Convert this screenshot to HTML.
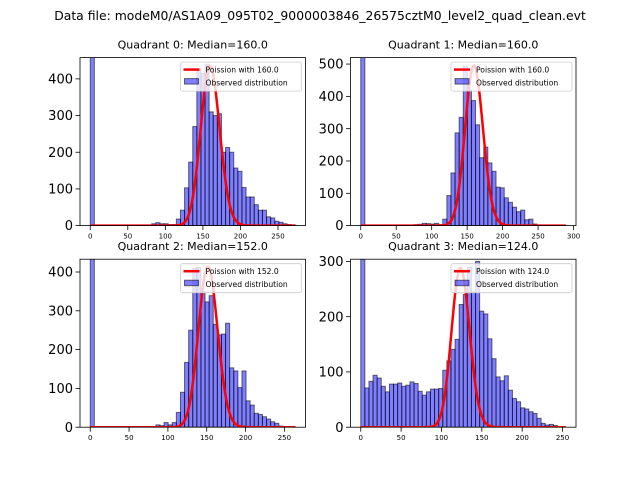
<!DOCTYPE html>
<html><head><meta charset="utf-8">
<style>
html,body{margin:0;padding:0;background:#fff;}
svg{display:block;font-family:"DejaVu Sans","Liberation Sans",sans-serif;}
</style></head>
<body>
<svg id="chart" width="640" height="480" viewBox="0 0 640 480" xmlns="http://www.w3.org/2000/svg">
<rect x="0" y="0" width="640" height="480" fill="#fff"/>
<text x="320" y="20" font-size="12.4" text-anchor="middle" fill="#000">Data file: modeM0/AS1A09_095T02_9000003846_26575cztM0_level2_quad_clean.evt</text>
</svg>
<script>
// ---- data ----
const quadrantNames = ["Quadrant 0", "Quadrant 1", "Quadrant 2", "Quadrant 3"];
const medians = [160.0, 160.0, 152.0, 124.0];
const poissonPeaks = [435, 495, 414, 288];
const dataRanges = [273, 289, 264, 254];
const counts0 = [2000,0,0,0,0,0,0,0,0,0,0,0,0,0,0,5,8,5,5,3,3,18,42,103,173,270,427,415,440,310,300,305,200,213,200,157,148,104,78,78,57,42,42,24,21,12,9,5,3,2];
const counts1 = [2000,0,0,0,0,0,0,0,0,0,0,0,0,3,4,7,6,5,7,3,20,93,163,287,335,493,420,387,312,210,243,194,168,119,117,86,72,57,43,48,18,20,5,2,1,1,0,0,0,1];
const counts2 = [2000,0,0,0,0,0,0,0,0,0,0,0,0,0,0,0,6,4,12,6,12,38,90,167,250,410,412,350,323,339,265,238,240,268,153,145,102,145,68,57,36,33,27,21,14,10,3,0,1,1];
const counts3 = [2000,71,83,94,89,74,64,78,78,80,74,76,82,79,65,58,64,69,69,70,103,120,141,159,222,240,290,245,300,210,205,160,124,91,84,93,67,52,46,35,33,28,25,16,7,4,5,3,1,0];
const allCounts = [counts0, counts1, counts2, counts3];
const yTicks = [[0,100,200,300,400],[0,100,200,300,400,500],[0,100,200,300,400],[0,100,200,300]];
const xTicks = [[0,50,100,150,200,250],[0,50,100,150,200,250,300],[0,50,100,150,200,250],[0,50,100,150,200,250]];
const yMaxes = [458, 520, 433, 304];

// ---- layout ----
const NS = "http://www.w3.org/2000/svg";
const svg = document.getElementById('chart');
const boxes = [
  {x:80, y:57.6, w:225.5, h:168},
  {x:350.5, y:57.6, w:225.5, h:168},
  {x:80, y:259.2, w:225.5, h:168},
  {x:350.5, y:259.2, w:225.5, h:168}
];
function mk(tag, attrs, parent){
  const e = document.createElementNS(NS, tag);
  for (const k in attrs) e.setAttribute(k, attrs[k]);
  parent.appendChild(e);
  return e;
}
function lgamma(n){
  if (n < 7){ let p=1; for(let i=1;i<n;i++) p*=i; return Math.log(p); }
  return (n-0.5)*Math.log(n) - n + 0.5*Math.log(2*Math.PI) + 1/(12*n) - 1/(360*n*n*n);
}
function logPmf(k, lam){ return k*Math.log(lam) - lam - lgamma(k+1); }

for (let q=0;q<4;q++){
  const b = boxes[q];
  const R = dataRanges[q];
  const x0 = -0.05*R, x1 = 1.05*R;
  const ymax = yMaxes[q];
  const xs = v => b.x + (v - x0)/(x1 - x0)*b.w;
  const ys = v => b.y + b.h - v/ymax*b.h;
  const g = mk('g', {}, svg);
  
  
  const clipId = 'clip' + q;
  const cp = mk('clipPath', {id: clipId}, g);
  mk('rect', {x:b.x, y:b.y, width:b.w, height:b.h}, cp);
  const plot = mk('g', {'clip-path':'url(#'+clipId+')'}, g);

  const counts = allCounts[q];
  const bw = R / counts.length;
  counts.forEach((c, i) => {
    if (c <= 0) return;
    const xa = xs(i*bw), xb = xs((i+1)*bw);
    const r = mk('rect', {x:xa, y:ys(c), width:xb-xa, height:ys(0)-ys(c), fill:'rgba(0,0,255,0.5)', stroke:'rgba(0,0,0,0.55)', 'stroke-width':1}, plot);
    
    
  });

  const lam = medians[q];
  const peakLog = logPmf(Math.floor(lam), lam);
  let d = '';
  for (let k=0;k<=Math.round(R);k++){
    const v = poissonPeaks[q]*Math.exp(logPmf(k, lam) - peakLog);
    d += (k===0?'M':'L') + xs(k).toFixed(2) + ',' + ys(v).toFixed(2);
  }
  const pl = mk('path', {d:d, fill:'none', stroke:'#ff0000', 'stroke-width':2.5, 'stroke-linejoin':'round'}, plot);
  
  

  const fr = mk('rect', {x:b.x, y:b.y, width:b.w, height:b.h, fill:'none', stroke:'#000', 'stroke-width':0.8}, g);
  
  

  yTicks[q].forEach(t => {
    const y = ys(t);
    mk('line', {x1:b.x-4.5, x2:b.x, y1:y, y2:y, stroke:'#000', 'stroke-width':0.8}, g);
    const tx = mk('text', {x:b.x-7, y:y+4.6, 'font-size':13, 'text-anchor':'end', fill:'#000'}, g);
    tx.textContent = t;
    
    
  });
  xTicks[q].forEach(t => {
    const x = xs(t);
    mk('line', {x1:x, x2:x, y1:b.y+b.h, y2:b.y+b.h+4.5, stroke:'#000', 'stroke-width':0.8}, g);
    const tx = mk('text', {x:x, y:b.y+b.h+13, 'font-size':7, 'text-anchor':'middle', fill:'#000'}, g);
    tx.textContent = t;
    
    
  });
  const ti = mk('text', {x:b.x+b.w/2, y:b.y-9, 'font-size':11, 'text-anchor':'middle', fill:'#000'}, g);
  ti.textContent = quadrantNames[q] + ': Median=' + medians[q].toFixed(1);
  
  

  const lx = b.x + b.w - 125, ly = b.y + 4.5;
  const lg = mk('g', {}, g);
  
  
  mk('rect', {x:lx, y:ly, width:121, height:29, rx:2, fill:'rgba(255,255,255,0.8)', stroke:'#ccc', 'stroke-width':0.8}, lg);
  mk('line', {x1:lx+3, x2:lx+19, y1:ly+7.5, y2:ly+7.5, stroke:'#ff0000', 'stroke-width':2.5}, lg);
  const t1 = mk('text', {x:lx+25, y:ly+10.3, 'font-size':7.6, fill:'#000'}, lg);
  t1.textContent = 'Poission with ' + medians[q].toFixed(1);
  
  
  mk('rect', {x:lx+4, y:ly+16.5, width:14, height:5.5, fill:'rgba(0,0,255,0.5)', stroke:'rgba(0,0,0,0.55)', 'stroke-width':1}, lg);
  const t2 = mk('text', {x:lx+25, y:ly+23.3, 'font-size':7.6, fill:'#000'}, lg);
  t2.textContent = 'Observed distribution';
  
  
}
</script>
</body></html>
